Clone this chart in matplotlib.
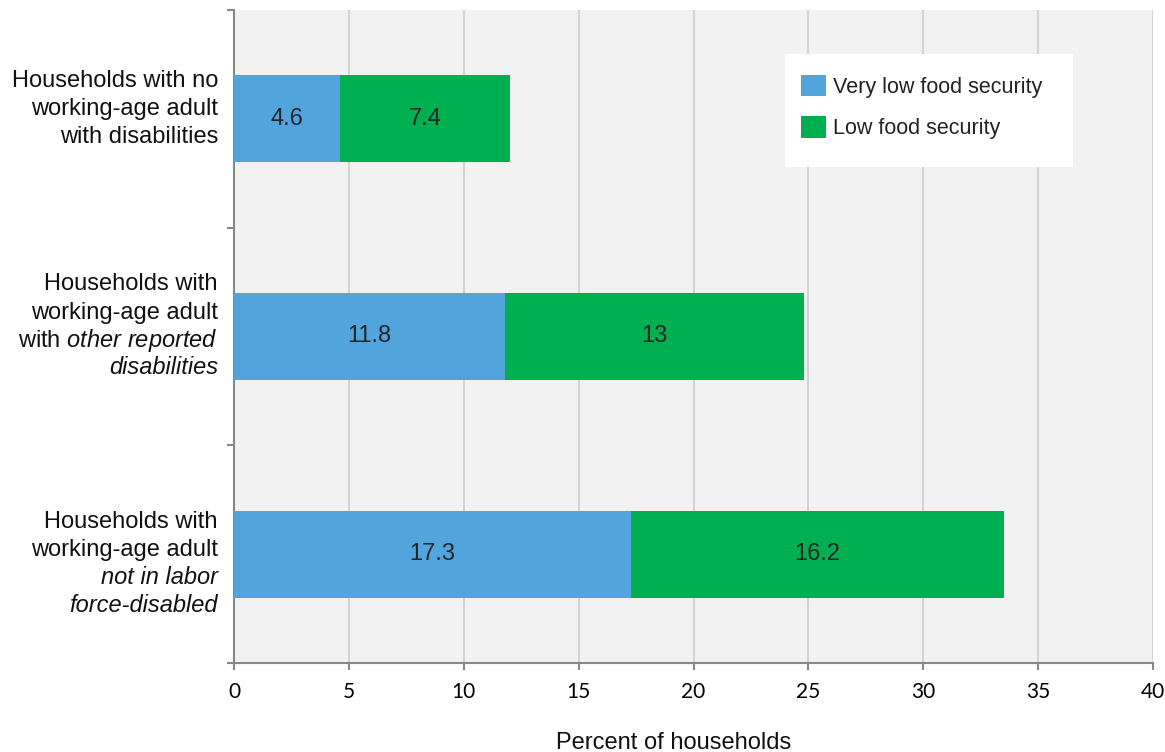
import matplotlib.pyplot as plt
from matplotlib.patches import Rectangle

plt.rcParams['font.family'] = ['Liberation Sans', 'DejaVu Sans']
plt.rcParams['mathtext.fontset'] = 'custom'
plt.rcParams['mathtext.rm'] = 'Liberation Sans'
plt.rcParams['mathtext.it'] = 'Liberation Sans:italic'

# data, top category first
very_low = [4.6, 11.8, 17.3]
low = [7.4, 13, 16.2]
series_names = ["Very low food security", "Low food security"]
category_lines = [
    [("Households with no", "normal"), ("working-age adult", "normal"), ("with disabilities", "normal")],
    [("Households with", "normal"), ("working-age adult", "normal"),
     (r"with $\mathit{other\ reported}$", "normal"), ("disabilities", "italic")],
    [("Households with", "normal"), ("working-age adult", "normal"),
     ("not in labor", "italic"), ("force-disabled", "italic")],
]
# baseline of each label line, pixels below the bar centre
line_offsets = [[-32, -4, 24], [-46, -18, 10, 38], [-26, 2, 30, 58]]
xticks = [0, 5, 10, 15, 20, 25, 30, 35, 40]

blue = '#51a5dc'
green = '#00b050'

fig = plt.figure(figsize=(11.65, 7.52), dpi=100)
ax = fig.add_axes([234 / 1165, 89 / 752, 919 / 1165, 653 / 752])
ax.set_facecolor('#f2f2f2')

ypos = [2, 1, 0]
ax.barh(ypos, very_low, height=0.4, color=blue, label=series_names[0], zorder=3)
ax.barh(ypos, low, left=very_low, height=0.4, color=green, label=series_names[1], zorder=3)

for y, a, b in zip(ypos, very_low, low):
    ax.text(a / 2, y, f"{a:g}", ha='center', va='center', fontsize=17, color='#262626', zorder=4)
    ax.text(a + b / 2, y, f"{b:g}", ha='center', va='center', fontsize=17, color='#262626', zorder=4)

for y, lines, offs in zip(ypos, category_lines, line_offsets):
    for (txt, style), off in zip(lines, offs):
        ax.annotate(txt, xy=(0, y), xytext=(-16, -off), textcoords='offset pixels',
                    ha='right', va='baseline', fontsize=17, style=style, color='#111111',
                    annotation_clip=False)

ax.set_xlim(0, 40)
ax.set_ylim(-0.5, 2.5)
ax.set_xticks(xticks)
ax.set_xticklabels([str(t) for t in xticks], family=['Lato', 'DejaVu Sans'], fontsize=15)
ax.set_yticks([-0.5, 0.5, 1.5, 2.5])
ax.set_yticklabels([])
ax.tick_params(axis='x', length=5, width=1.5, color='#888888', pad=9)
ax.tick_params(axis='y', length=5, width=1.5, color='#888888')
ax.grid(axis='x', color='#cccccc', linewidth=1.2, zorder=0)
ax.set_axisbelow(True)
for s in ['top', 'right']:
    ax.spines[s].set_visible(False)
for s in ['left', 'bottom']:
    ax.spines[s].set_color('#888888')
    ax.spines[s].set_linewidth(1.5)

# white legend box
box = Rectangle((785 / 1165, 1 - 167 / 752), 288 / 1165, 113 / 752,
                transform=fig.transFigure, facecolor='white', edgecolor='none', zorder=5)
ax.add_patch(box)
leg = ax.legend(loc='upper left', bbox_to_anchor=(801 / 1165, 1 - 75 / 752),
                bbox_transform=fig.transFigure, borderaxespad=0, fontsize=15.5,
                frameon=False, handlelength=1.15, handleheight=1.15,
                handletextpad=0.33, labelspacing=0.85, borderpad=0)
leg.set_zorder(6)
for t in leg.get_texts():
    t.set_color('#222222')

fig.text(674 / 1165, 3 / 752, "Percent of households", ha='center', va='baseline',
         fontsize=17, color='#111111')

fig.savefig('out.png', dpi=100)
